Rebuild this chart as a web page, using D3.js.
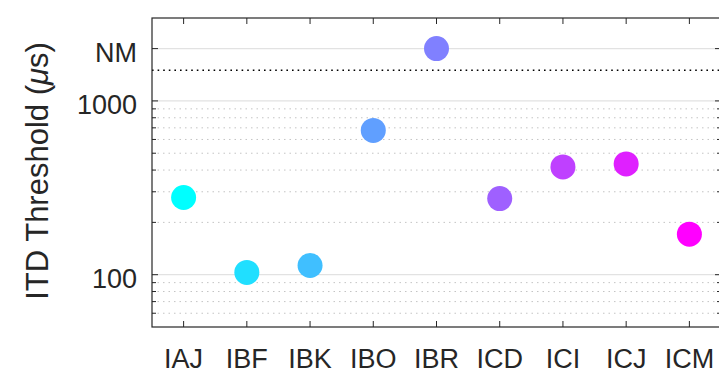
<!DOCTYPE html>
<html>
<head>
<meta charset="utf-8">
<script src="https://cdnjs.cloudflare.com/ajax/libs/d3/7.8.5/d3.min.js"></script>
<style>
  body { margin: 0; background: #fff; }
  svg { display: block; font-family: "Liberation Sans", Arial, Helvetica, sans-serif; }
</style>
</head>
<body>
<svg id="chart"></svg>
<script>
// ITD thresholds per subject (NM = not measurable)
var subjects = ["IAJ", "IBF", "IBK", "IBO", "IBR", "ICD", "ICI", "ICJ", "ICM"];
var thresholds = [278, 103, 113, 676, "NM", 274, 417, 434, 171];
var nmValue = 2000;
var criterion = 1500;

var majorTicks = [100, 1000, 2000];
var majorLabels = ["100", "1000", "NM"];
var minorTicks = [60, 70, 80, 90, 200, 300, 400, 500, 600, 700, 800, 900];

(function() {
  var width = 719, height = 373;
  var mLeft = 152, mRight = 721, mTop = 18, mBottom = 327;
  var ink = "#262626";

  var svg = d3.select("#chart")
      .attr("width", width)
      .attr("height", height);

  var x = d3.scalePoint()
      .domain(subjects)
      .range([mLeft, mRight])
      .padding(0.5);

  var y = d3.scaleLog()
      .domain([50, 3000])
      .range([mBottom, mTop]);

  var color = d3.scaleLinear()
      .domain([0, subjects.length - 1])
      .range(["#00ffff", "#ff00ff"])
      .interpolate(d3.interpolateRgb);

  // grid
  svg.append("g")
      .selectAll("line")
      .data(minorTicks)
      .enter().append("line")
        .attr("x1", mLeft).attr("x2", mRight)
        .attr("y1", function(d) { return y(d); })
        .attr("y2", function(d) { return y(d); })
        .attr("stroke", "#c4c4c4")
        .attr("stroke-width", 1)
        .attr("stroke-dasharray", "1.5,4");

  svg.append("g")
      .selectAll("line")
      .data(majorTicks)
      .enter().append("line")
        .attr("x1", mLeft).attr("x2", mRight)
        .attr("y1", function(d) { return y(d); })
        .attr("y2", function(d) { return y(d); })
        .attr("stroke", "#e2e2e2")
        .attr("stroke-width", 1.2);

  // criterion line
  svg.append("line")
      .attr("x1", mLeft).attr("x2", mRight)
      .attr("y1", y(criterion)).attr("y2", y(criterion))
      .attr("stroke", "#000")
      .attr("stroke-width", 1.6)
      .attr("stroke-dasharray", "1.6,4");

  // points
  svg.append("g")
      .selectAll("circle")
      .data(thresholds)
      .enter().append("circle")
        .attr("cx", function(d, i) { return x(subjects[i]); })
        .attr("cy", function(d) { return y(d === "NM" ? nmValue : d); })
        .attr("r", 12.5)
        .attr("fill", function(d, i) { return color(i); });

  // axes (box on, ticks inward)
  var axes = svg.append("g").attr("stroke", ink);

  axes.append("rect")
      .attr("x", mLeft).attr("y", mTop)
      .attr("width", mRight - mLeft).attr("height", mBottom - mTop)
      .attr("fill", "none")
      .attr("stroke-width", 1.2);

  subjects.forEach(function(s) {
    axes.append("line")
        .attr("x1", x(s)).attr("x2", x(s))
        .attr("y1", mBottom).attr("y2", mBottom - 6);
    axes.append("line")
        .attr("x1", x(s)).attr("x2", x(s))
        .attr("y1", mTop).attr("y2", mTop + 6);
  });

  majorTicks.forEach(function(t) {
    axes.append("line")
        .attr("x1", mLeft).attr("x2", mLeft + 6)
        .attr("y1", y(t)).attr("y2", y(t));
    axes.append("line")
        .attr("x1", mRight).attr("x2", mRight - 6)
        .attr("y1", y(t)).attr("y2", y(t));
  });

  minorTicks.forEach(function(t) {
    axes.append("line")
        .attr("x1", mLeft).attr("x2", mLeft + 4)
        .attr("y1", y(t)).attr("y2", y(t));
    axes.append("line")
        .attr("x1", mRight).attr("x2", mRight - 4)
        .attr("y1", y(t)).attr("y2", y(t));
  });

  // tick labels
  svg.append("g")
      .selectAll("text")
      .data(majorTicks)
      .enter().append("text")
        .attr("x", mLeft - 15)
        .attr("y", function(d) { return y(d) + 13; })
        .attr("text-anchor", "end")
        .attr("font-size", 27)
        .attr("fill", ink)
        .text(function(d, i) { return majorLabels[i]; });

  svg.append("g")
      .selectAll("text")
      .data(subjects)
      .enter().append("text")
        .attr("x", function(d) { return x(d); })
        .attr("y", 368)
        .attr("text-anchor", "middle")
        .attr("font-size", 27)
        .attr("fill", ink)
        .text(function(d) { return d; });

  // y label
  var ylab = svg.append("text")
      .attr("transform", "translate(48,171) rotate(-90)")
      .attr("text-anchor", "middle")
      .attr("font-size", 31)
      .attr("fill", ink);
  ylab.append("tspan").text("ITD Threshold (");
  ylab.append("tspan").attr("font-style", "italic").text("\u03bc");
  ylab.append("tspan").text("s)");
})();
</script>
</body>
</html>
